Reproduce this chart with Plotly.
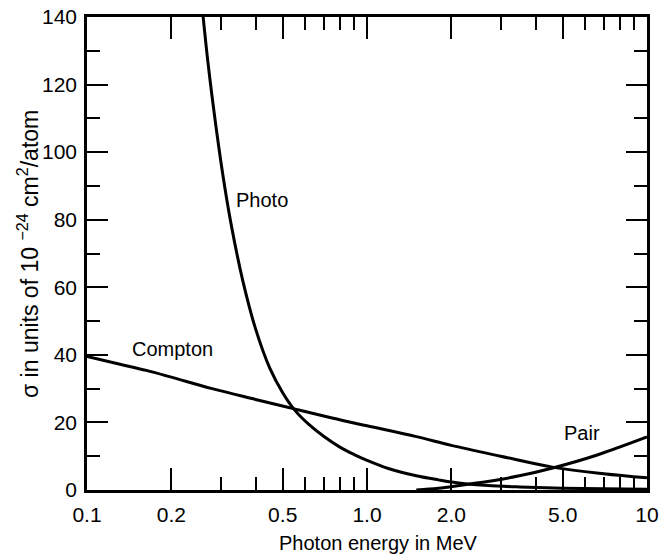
import plotly.graph_objects as go

# ---- data ----
compton_E = [0.1, 0.13, 0.163, 0.2, 0.28, 0.4, 0.55, 0.75, 1.0, 1.5, 2.0, 3.0, 4.64, 7.0, 10.0]
compton_s = [39.5, 37.3, 35.4, 33.4, 30.0, 26.8, 24.0, 21.3, 19.0, 15.8, 13.2, 10.0, 6.7, 4.8, 3.6]

photo_E = [0.255, 0.27, 0.29, 0.31, 0.33, 0.36, 0.40, 0.45, 0.50, 0.55, 0.62, 0.70, 0.80,
           0.90, 1.0, 1.2, 1.5, 1.8, 2.2, 2.7, 3.5, 5.0, 7.0, 10.0]
photo_s = [147, 127, 106.5, 90, 77, 62, 47.7, 36, 28.8, 23.8, 19.4, 15.9, 12.7,
           10.5, 8.8, 6.3, 4.2, 3.0, 1.9, 1.3, 0.9, 0.55, 0.35, 0.2]

pair_E = [1.5, 1.8, 2.2, 2.7, 3.5, 4.64, 6.6, 10.0]
pair_s = [0.0, 0.5, 1.5, 2.5, 4.2, 6.6, 10.3, 15.7]

x_major = [0.1, 0.2, 0.5, 1.0, 2.0, 5.0, 10.0]
x_major_text = ["0.1", "0.2", "0.5", "1.0", "2.0", "5.0", "10"]
x_minor = [0.3, 0.4, 0.6, 0.7, 0.8, 0.9, 3, 4, 6, 7, 8, 9]
y_major = [0, 20, 40, 60, 80, 100, 120, 140]

FONT = "Liberation Sans, Arial, sans-serif"

fig = go.Figure()
for E, s in [(compton_E, compton_s), (photo_E, photo_s), (pair_E, pair_s)]:
    fig.add_trace(go.Scatter(x=E, y=s, mode="lines",
                             line=dict(color="black", width=3, shape="spline", smoothing=1.0),
                             showlegend=False, hoverinfo="skip"))

fig.update_layout(
    width=664, height=559,
    margin=dict(l=87, r=17, t=17, b=69),
    paper_bgcolor="white", plot_bgcolor="white",
    font=dict(family=FONT, color="black", size=21),
    showlegend=False,
)

fig.update_xaxes(
    type="log", range=[-1, 1], automargin=False,
    tickmode="array", tickvals=x_major, ticktext=x_major_text,
    ticks="inside", ticklen=22, tickwidth=1.5, tickcolor="black",
    minor=dict(tickmode="array", tickvals=x_minor, ticks="inside", ticklen=13,
               tickwidth=1.5, tickcolor="black", showgrid=False),
    showline=True, linewidth=2.5, linecolor="black", mirror="ticks",
    showgrid=False, zeroline=False,
    tickfont=dict(family=FONT, size=21, color="black"),
    ticklabelstandoff=4,
)
fig.update_yaxes(
    range=[0, 140], automargin=False,
    tickmode="array", tickvals=y_major,
    ticks="inside", ticklen=21, tickwidth=1.5, tickcolor="black",
    minor=dict(dtick=10, ticks="inside", ticklen=13, tickwidth=1.5,
               tickcolor="black", showgrid=False),
    showline=True, linewidth=2.5, linecolor="black", mirror="ticks",
    showgrid=False, zeroline=False,
    tickfont=dict(family=FONT, size=21, color="black"),
    ticklabelstandoff=3,
)


def px_x(p):
    return (p - 87) / 560


def px_y(p):
    return (490 - p) / 473


ann_font = dict(family=FONT, size=20, color="black")
for label, cx, cy in [("Photo", 262, 200), ("Compton", 172, 349), ("Pair", 582, 433)]:
    fig.add_annotation(x=px_x(cx), y=px_y(cy), xref="paper", yref="paper",
                       xanchor="center", yanchor="middle",
                       text=label, showarrow=False, font=ann_font)

# axis titles
fig.add_annotation(x=px_x(378), y=px_y(543), xref="paper", yref="paper",
                   xanchor="center", yanchor="middle",
                   text="Photon energy in MeV", showarrow=False,
                   font=dict(family=FONT, size=20, color="black"))
fig.add_annotation(x=px_x(28), y=px_y(254), xref="paper", yref="paper",
                   xanchor="center", yanchor="middle",
                   text="σ in units of 10 <sup>−24</sup> cm<sup>2</sup>/atom", textangle=-90,
                   showarrow=False, font=dict(family=FONT, size=23, color="black"))

fig.write_html("out.html", config={"displayModeBar": False},
               post_script="document.body.style.margin='0';document.body.style.padding='0';")
